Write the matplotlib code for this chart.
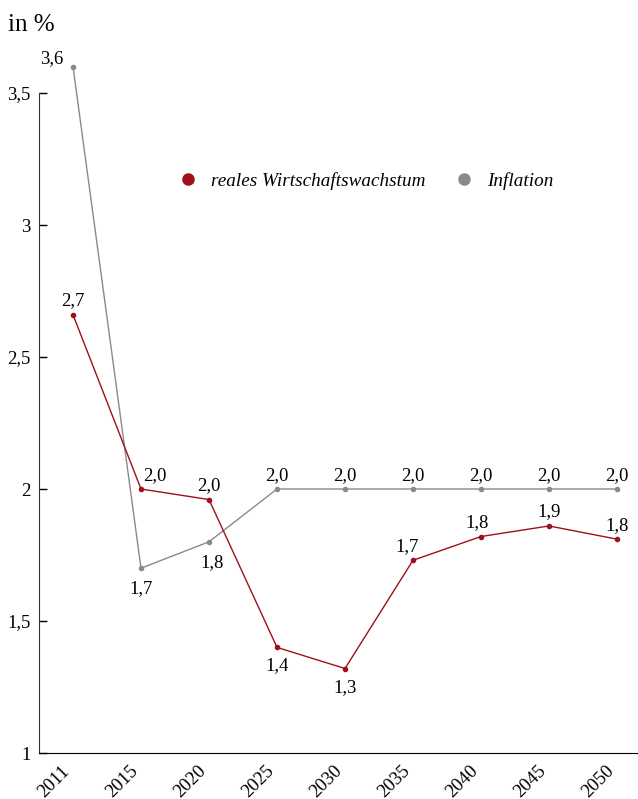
#!/usr/bin/env python3
"""Reales Wirtschaftswachstum und Inflation, 2011-2050."""

import matplotlib
matplotlib.use('Agg')
import matplotlib.pyplot as plt
import matplotlib.transforms as mtransforms
from matplotlib.lines import Line2D

years = ['2011', '2015', '2020', '2025', '2030', '2035', '2040', '2045', '2050']

growth = [2.66, 2.00, 1.96, 1.40, 1.32, 1.73, 1.82, 1.86, 1.81]
growth_labels = ['2,7', '2,0', '2,0', '1,4', '1,3', '1,7', '1,8', '1,9', '1,8']

inflation = [3.60, 1.70, 1.80, 2.00, 2.00, 2.00, 2.00, 2.00, 2.00]
inflation_labels = ['3,6', '1,7', '1,8', '2,0', '2,0', '2,0', '2,0', '2,0', '2,0']

yticks = [1, 1.5, 2, 2.5, 3, 3.5]
ytick_labels = ['1', '1,5', '2', '2,5', '3', '3,5']

RED = '#a0101a'
GREY = '#8a8a8a'

# label offsets in points (dx, dy) per point
growth_offsets = [(0, 10), (10, 10), (0, 10), (0, -13), (0, -14), (-4, 10), (-3, 10), (0, 10), (0, 10)]
inflation_offsets = [(-15, 6), (0, -15), (2, -15), (0, 10), (0, 10), (0, 10), (0, 10), (0, 10), (0, 10)]

plt.rcParams['font.family'] = ['Liberation Serif', 'DejaVu Serif']

fig = plt.figure(figsize=(6.38, 7.99), dpi=100)
ax = fig.add_axes([39 / 638, 46 / 799, 612 / 638, 712.8 / 799])

x = list(range(len(years)))
ax.plot(x, inflation, color=GREY, lw=1, marker='o', ms=3, clip_on=False, zorder=2)
ax.plot(x, growth, color=RED, lw=1, marker='o', ms=3, clip_on=False, zorder=3)

for xi, v, lab, off in zip(x, growth, growth_labels, growth_offsets):
    ax.annotate(lab, (xi, v), xytext=off, textcoords='offset points',
                ha='center', va='center', fontsize=13.5, annotation_clip=False)
for xi, v, lab, off in zip(x, inflation, inflation_labels, inflation_offsets):
    ax.annotate(lab, (xi, v), xytext=off, textcoords='offset points',
                ha='center', va='center', fontsize=13.5, annotation_clip=False)

ax.set_xlim(-0.5, len(years) - 0.5)
ax.set_ylim(1, 3.7)
ax.set_yticks(yticks)
ax.set_yticklabels(ytick_labels)
ax.set_xticks(x)
ax.set_xticklabels(years, rotation=45, ha='right', rotation_mode='default')

# the year labels sit a bit left of their points
shift = mtransforms.ScaledTranslation(-4 / 100, 0, fig.dpi_scale_trans)
for lab in ax.get_xticklabels():
    lab.set_transform(lab.get_transform() + shift)

ax.tick_params(axis='y', direction='in', length=6, width=1, pad=6, labelsize=13.5)
ax.tick_params(axis='x', length=0, pad=7, labelsize=13.5)

ax.spines['top'].set_visible(False)
ax.spines['right'].set_visible(False)
ax.spines['left'].set_bounds(1, 3.5)
ax.spines['left'].set_color('#333333')

handles = [
    Line2D([], [], ls='none', marker='o', ms=8, color=RED),
    Line2D([], [], ls='none', marker='o', ms=8, color=GREY),
]
ax.legend(handles, ['reales Wirtschaftswachstum', 'Inflation'], ncol=2,
          loc='center', bbox_to_anchor=(0.534, 0.8025), frameon=False,
          prop={'style': 'italic', 'size': 13.8}, handletextpad=0.7,
          columnspacing=1.5, handlelength=1.0)

fig.text(8 / 638, 1 - 25 / 799, 'in %', fontsize=18, ha='left', va='center')

fig.savefig('out.png', dpi=100)
